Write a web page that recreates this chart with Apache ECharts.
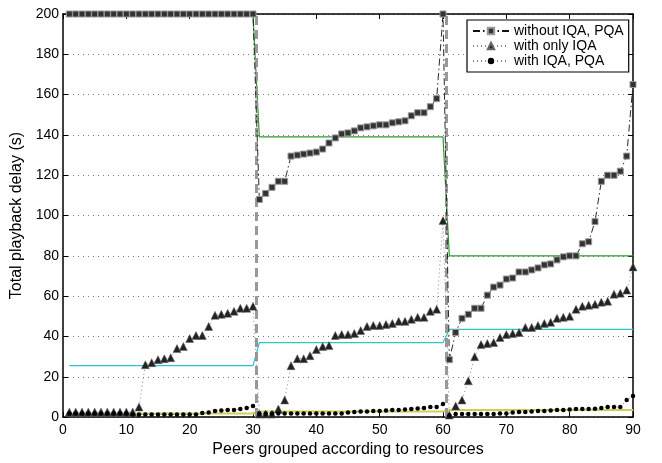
<!DOCTYPE html>
<html>
<head>
<meta charset="utf-8">
<script src="https://cdn.jsdelivr.net/npm/echarts@6/dist/echarts.min.js"></script>
<style>
html,body{margin:0;padding:0;background:#fff;}
#chart{width:662px;height:463px;}
</style>
</head>
<body>
<div id="chart"></div>
<script>
// Peer index (x values)
var peers = [1,2,3,4,5,6,7,8,9,10,11,12,13,14,15,16,17,18,19,20,21,22,23,24,25,26,27,28,29,30,
  31,32,33,34,35,36,37,38,39,40,41,42,43,44,45,46,47,48,49,50,51,52,53,54,55,56,57,58,59,60,
  61,62,63,64,65,66,67,68,69,70,71,72,73,74,75,76,77,78,79,80,81,82,83,84,85,86,87,88,89,90];

var seriesNames = ['without IQA, PQA', 'with only IQA', 'with IQA, PQA'];

var withoutIQAPQA = [200,200,200,200,200,200,200,200,200,200,200,200,200,200,200,200,200,200,200,200,200,200,200,200,200,200,200,200,200,200,
  108,111,114,117,117,129.5,130,130.5,131,131.5,133,136,138.5,140.5,141,142,143.5,144,144.5,145,145,146,146.5,147,149.5,151,151,154,158,200,
  28.5,42,49,51,54,54,60.5,64.5,65.5,68.5,69,72,72,73,74,75.5,76,78,79.5,80,80,86,87,97,117,120,120,122,129.5,165];

var withOnlyIQA = [2.5,2.5,2.5,2.5,2.5,2.5,2.5,2.5,2.5,2.5,2.5,5,26,27,28.5,29,29.5,34,35,39,40.5,40.5,45,50.5,51,51.5,52.5,54,54,55,
  1.5,1.5,1.5,4,8.5,25.5,29,29,30.5,33.5,35,35.5,40.5,41,41,41.5,43,45,45.5,45.5,46,46.5,47.5,47.5,48.5,49.5,49.5,52.5,53.5,97.5,
  1,5.5,8.5,18,30,36,36.5,37,39.5,41,41.5,42,44.5,44.5,45.5,46.5,47,49,49.5,50,53.5,55,55.5,56,57,57.5,61,61.5,63,74.5];

var withIQAPQA = [1.8,1.8,1.8,1.8,1.8,1.8,1.8,1.8,1.8,1.8,1.3,1.3,1.3,1.3,1.3,1.3,1.3,1.3,1.3,1.3,1.3,2,2.3,3,3.3,3.5,3.5,4,4.5,5.5,
  1.8,1.8,1.8,1.8,1.8,1.8,1.8,1.8,1.8,1.8,1.8,1.8,1.8,1.8,2.3,2.5,2.8,2.8,3,3,3.3,3.5,3.5,3.8,4,4.3,4.5,5,5,6.5,
  0.8,1.5,1.5,1.5,1.5,1.5,1.5,1.5,1.8,1.8,2.3,2.5,2.5,2.8,3,3,3.3,3.5,3.5,3.8,4,4,4,4.2,4.5,5,5,5,8.5,10.5];

// Group reference levels (x, y) pairs for the three thin coloured lines
var refGreenX = [1,30,31,60,61,90];
var refGreenY = [200,200,139,139,80,80];
var refCyanX = [1,30,31,60,61,90];
var refCyanY = [25.5,25.5,37,37,43.5,43.5];
var refYellowX = [1,30,31,60,61,90];
var refYellowY = [1.8,1.8,2.8,2.8,3.5,3.5];

// Group separators
var groupSeparators = [30.5, 60.5];

function pairs(xs, ys){ return xs.map(function(x,i){ return [x, ys[i]]; }); }

var FONT = '"Liberation Sans", Arial, Helvetica, sans-serif';

var chart = echarts.init(document.getElementById('chart'), null, {renderer:'canvas'});

var baseAxis = {
  axisLine:{show:true, onZero:false, lineStyle:{color:'#000', width:1.5}},
  axisTick:{show:true, inside:true, length:5, lineStyle:{color:'#000', width:1}},
};

var option = {
  animation:false,
  backgroundColor:'#fff',
  textStyle:{fontFamily:FONT},
  grid:{left:63, right:29, top:14, bottom:40, containLabel:false},
  legend:{
    data:seriesNames,
    orient:'vertical',
    left:467, top:20,
    padding:[4,5,4,5],
    itemGap:1,
    itemWidth:36, itemHeight:8,
    backgroundColor:'#fff',
    borderColor:'#000', borderWidth:1.2, borderRadius:0,
    textStyle:{fontFamily:FONT, fontSize:14, color:'#000'},
    selectedMode:false
  },
  xAxis:[
    Object.assign({}, baseAxis, {
      type:'value', min:0, max:90, interval:10, position:'bottom',
      axisLabel:{color:'#000', fontSize:14, fontFamily:FONT, margin:6},
      splitLine:{show:false},
      name:'Peers grouped according to resources', nameLocation:'middle', nameGap:23,
      nameTextStyle:{color:'#000', fontSize:16, fontFamily:FONT}
    }),
    Object.assign({}, baseAxis, {
      type:'value', min:0, max:90, interval:10, position:'top',
      axisLabel:{show:false}, splitLine:{show:false}
    })
  ],
  yAxis:[
    Object.assign({}, baseAxis, {
      type:'value', min:0, max:200, interval:20, position:'left',
      axisLabel:{color:'#000', fontSize:14, fontFamily:FONT, margin:4},
      splitLine:{show:true, lineStyle:{color:'#777', width:1, type:[1,4]}},
      name:'Total playback delay (s)', nameLocation:'middle', nameGap:32,
      nameTextStyle:{color:'#000', fontSize:16, fontFamily:FONT}
    }),
    Object.assign({}, baseAxis, {
      type:'value', min:0, max:200, interval:20, position:'right',
      axisLabel:{show:false}, splitLine:{show:false}
    })
  ],
  series:[
    {
      name:'sep', type:'line', data:[], silent:true,
      markLine:{
        silent:true, symbol:'none', label:{show:false},
        lineStyle:{color:'#999', width:3, type:[9,5]},
        data:groupSeparators.map(function(v){ return [{coord:[v,0]},{coord:[v,200]}]; })
      }
    },
    {
      name:'refGreen', type:'line', data:pairs(refGreenX, refGreenY), symbol:'none',
      lineStyle:{color:'#2e9a2e', width:1.2}, z:3, silent:true
    },
    {
      name:'refCyan', type:'line', data:pairs(refCyanX, refCyanY), symbol:'none',
      lineStyle:{color:'#2cc6cc', width:1.2}, z:3, silent:true
    },
    {
      name:'refYellow', type:'line', data:pairs(refYellowX, refYellowY), symbol:'none',
      lineStyle:{color:'#cfcf55', width:2}, z:3, silent:true
    },
    {
      name:seriesNames[0], type:'line', data:pairs(peers, withoutIQAPQA),
      symbol:'rect', symbolSize:6,
      itemStyle:{color:'#333', borderColor:'#999', borderWidth:1},
      lineStyle:{color:'#111', width:0.9, type:[7,3,1.5,3]}, z:5
    },
    {
      name:seriesNames[1], type:'line', data:pairs(peers, withOnlyIQA),
      symbol:'triangle', symbolSize:8,
      itemStyle:{color:'#222', borderColor:'#666', borderWidth:0.5},
      lineStyle:{color:'#888', width:1, type:[1,3]}, z:5
    },
    {
      name:seriesNames[2], type:'line', data:pairs(peers, withIQAPQA),
      symbol:'circle', symbolSize:4.5,
      itemStyle:{color:'#000'},
      lineStyle:{color:'#888', width:1, type:[1,3]}, z:5
    }
  ]
};
chart.setOption(option);
</script>
</body>
</html>
